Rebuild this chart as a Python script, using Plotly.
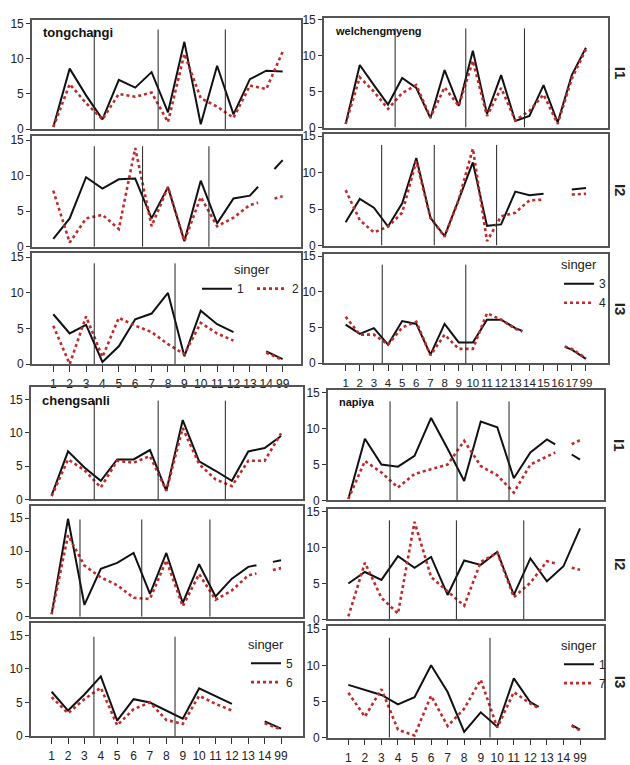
import plotly.graph_objects as go

# missing value that SPSS draws with half "wings" towards the neighbours
W = "w"

# x categories
xlab_tong = [str(i) for i in range(1, 15)] + ["99"]
xlab_welch = [str(i) for i in range(1, 18)] + ["99"]
xlab_cheng = [str(i) for i in range(1, 15)] + ["99"]
xlab_napiya = [str(i) for i in range(1, 15)] + ["99"]

# tongchangi, singers 1 and 2
tong_s1_i1 = [0.3, 8.6, 4.8, 1.4, 7.0, 5.9, 8.1, 2.4, 12.4, 0.7, 9.0, 2.1, 7.1, 8.3, 8.2]
tong_s2_i1 = [0.3, 6.4, 3.7, 1.4, 5.0, 4.6, 5.2, 1.0, 10.7, 4.4, 3.2, 1.6, 6.2, 5.7, 11.0]
tong_s1_i2 = [1.1, 4.0, 9.8, 8.2, 9.5, 9.6, 4.0, 8.4, 0.8, 9.3, 3.3, 6.8, 7.2, W, 12.2]
tong_s2_i2 = [7.9, 0.6, 4.0, 4.5, 2.5, 13.9, 2.9, 8.4, 0.8, 7.0, 2.9, 4.1, 5.9, W, 7.1]
tong_s1_i3 = [7.0, 4.3, 5.5, 0.3, 2.5, 6.3, 7.1, 10.0, 1.1, 7.5, 5.6, 4.5, None, 1.8, 0.7]
tong_s2_i3 = [5.4, 0.0, 6.7, 1.0, 6.5, 5.4, 4.5, 2.8, 1.4, 5.8, 4.3, 3.3, None, 1.6, 0.6]

# welchengmyeng, singers 3 and 4
welch_s3_i1 = [0.5, 8.7, 5.9, 3.2, 6.9, 5.5, 1.3, 8.0, 3.0, 10.7, 1.9, 7.3, 0.9, 1.6, 5.9, 0.7, 7.3, 11.1]
welch_s4_i1 = [0.5, 7.0, 5.0, 2.6, 4.8, 5.9, 1.4, 5.6, 3.0, 9.3, 1.6, 5.5, 1.0, 2.3, 4.6, 0.5, 6.8, 10.9]
welch_s3_i2 = [3.2, 6.4, 5.2, 2.6, 5.8, 12.0, 3.8, 1.3, 6.3, 11.4, 2.7, 2.9, 7.4, 6.9, 7.1, None, 7.7, 7.9]
welch_s4_i2 = [7.6, 3.5, 1.8, 2.6, 4.5, 11.6, 3.8, 1.2, 6.3, 13.3, 0.6, 4.0, 4.5, 6.2, 6.3, None, 7.0, 7.1]
welch_s3_i3 = [5.4, 4.1, 4.9, 2.6, 5.9, 5.5, 1.2, 5.5, 2.9, 2.9, 6.1, 6.1, 4.9, W, W, W, 1.9, 0.6]
welch_s4_i3 = [6.5, 4.0, 4.0, 2.6, 5.0, 5.8, 1.1, 4.0, 2.0, 2.0, 7.0, 6.1, 4.8, W, W, W, 2.0, 0.7]

# chengsanli, singers 5 and 6
cheng_s5_i1 = [0.6, 7.2, 4.8, 2.8, 6.0, 6.0, 7.4, 1.3, 11.9, 5.7, 4.3, 2.8, 7.2, 7.7, 9.5]
cheng_s6_i1 = [0.5, 6.0, 4.4, 1.8, 5.8, 5.5, 6.5, 1.3, 10.7, 5.3, 3.0, 2.0, 5.8, 5.8, 9.9]
cheng_s5_i2 = [0.4, 14.9, 1.8, 7.3, 8.2, 9.7, 3.5, 9.7, 2.1, 8.0, 3.1, 5.8, 7.6, W, 8.6]
cheng_s6_i2 = [0.4, 12.4, 7.8, 6.0, 4.8, 2.9, 2.7, 8.6, 1.6, 6.5, 2.6, 4.0, 6.3, W, 7.4]
cheng_s5_i3 = [6.6, 3.8, 6.2, 8.9, 2.3, 5.5, 5.0, 3.8, 2.6, 7.1, 6.0, 4.8, None, 2.2, 1.1]
cheng_s6_i3 = [5.8, 3.4, 5.5, 7.2, 1.6, 4.0, 5.0, 2.4, 1.8, 6.0, 4.8, 3.8, None, 1.9, 1.0]

# napiya, singers 1 and 7
nap_s1_i1 = [0.2, 8.6, 5.0, 4.7, 6.2, 11.5, 7.2, 2.7, 11.0, 10.2, 3.1, 6.7, 8.5, W, 5.7]
nap_s7_i1 = [0.2, 5.5, 3.9, 1.8, 3.7, 4.3, 5.0, 8.3, 4.8, 3.5, 1.1, 5.0, 6.1, W, 8.4]
nap_s1_i2 = [5.0, 6.6, 5.5, 8.8, 7.2, 8.7, 3.4, 8.2, 7.6, 9.4, 3.4, 8.5, 5.3, 7.4, 12.7]
nap_s7_i2 = [0.4, 7.9, 3.0, 0.8, 13.6, 5.9, 3.9, 1.9, 8.0, 9.3, 3.1, 5.1, 8.1, W, 6.9]
nap_s1_i3 = [7.3, 6.6, 5.9, 4.6, 5.6, 10.0, 6.3, 0.8, 3.5, 1.5, 8.2, 4.9, W, W, 1.1]
nap_s7_i3 = [6.2, 2.9, 6.7, 1.1, 0.3, 5.8, 1.6, 4.0, 8.0, 1.4, 6.3, 4.7, W, W, 1.0]

# vertical phrase boundaries per row (I1, I2, I3)
cuts_tong = [[3.5, 7.4, 11.5], [3.5, 6.45, 10.5], [3.5, 8.43]]
cuts_welch = [[4.5, 9.5, 13.65], [3.55, 7.27, 11.68], [3.59, 9.5]]
cuts_cheng = [[3.6, 7.5, 11.6], [2.73, 6.5, 10.66], [3.58, 8.53]]
cuts_napiya = [[3.52, 7.57, 10.71], [3.48, 7.53, 11.6], [3.48, 9.56]]

singers_tong = ["1", "2"]
singers_welch = ["3", "4"]
singers_cheng = ["5", "6"]
singers_napiya = ["1", "7"]

FW, FH = 630, 765
FONT = "Liberation Sans, Arial, sans-serif"
BLACK = "#111111"
RED = "#bf2a2a"


def build(vals):
    xs, ys = [], []
    nums = [isinstance(v, (int, float)) for v in vals]
    for i, v in enumerate(vals):
        pos = i + 1
        if nums[i]:
            xs.append(pos)
            ys.append(v)
            continue
        if v == W:
            p = max([j for j in range(i) if nums[j]], default=None)
            q = min([j for j in range(i + 1, len(vals)) if nums[j]], default=None)
            if p is not None and q is not None:
                def lerp(t):
                    return vals[p] + (vals[q] - vals[p]) * (t - (p + 1)) / (q - p)
                if i - 1 == p:
                    xs.append(pos - 0.5)
                    ys.append(lerp(pos - 0.5))
                xs.append(pos)
                ys.append(None)
                if i + 1 == q:
                    xs.append(pos + 0.5)
                    ys.append(lerp(pos + 0.5))
                continue
        xs.append(pos)
        ys.append(None)
    return xs, ys


blocks = [
    dict(name="tongchangi", size=13, labels=xlab_tong, singers=singers_tong,
         data=[(tong_s1_i1, tong_s2_i1), (tong_s1_i2, tong_s2_i2), (tong_s1_i3, tong_s2_i3)],
         cuts=cuts_tong, top=14.15, x0=32, x1=301, xr=[-0.3, 16.12], yr=[0, 15.55],
         rows=[(15, 127), (134.3, 247.3), (254, 367.3)], legend="legend"),
    dict(name="welchengmyeng", size=11, labels=xlab_welch, singers=singers_welch,
         data=[(welch_s3_i1, welch_s4_i1), (welch_s3_i2, welch_s4_i2), (welch_s3_i3, welch_s4_i3)],
         cuts=cuts_welch, top=13.8, x0=324, x1=608, xr=[-0.53, 19.56], yr=[0, 15.25],
         rows=[(13.3, 125.3), (132.3, 246), (255, 366.3)], legend="legend2"),
    dict(name="chengsanli", size=13, labels=xlab_cheng, singers=singers_cheng,
         data=[(cheng_s5_i1, cheng_s6_i1), (cheng_s5_i2, cheng_s6_i2), (cheng_s5_i3, cheng_s6_i3)],
         cuts=cuts_cheng, top=14.8, x0=31, x1=303, xr=[-0.26, 16.34], yr=[0, 16.8],
         rows=[(391, 505.7), (512.7, 625.7), (632.3, 747.7)], legend="legend3"),
    dict(name="napiya", size=11, labels=xlab_napiya, singers=singers_napiya,
         data=[(nap_s1_i1, nap_s7_i1), (nap_s1_i2, nap_s7_i2), (nap_s1_i3, nap_s7_i3)],
         cuts=cuts_napiya, top=13.8, x0=328, x1=604, xr=[-0.23, 16.45], yr=[0, 15.45],
         rows=[(393.3, 506.7), (515, 628.3), (635, 749.3)], legend="legend4"),
]

fig = go.Figure()
layout = {}
shapes = []
annotations = []
k = 0
for b in blocks:
    for r, (top_px, bot_px) in enumerate(b["rows"]):
        k += 1
        xa = "xaxis" if k == 1 else "xaxis%d" % k
        ya = "yaxis" if k == 1 else "yaxis%d" % k
        xref = "x" if k == 1 else "x%d" % k
        yref = "y" if k == 1 else "y%d" % k
        last = r == 2
        layout[xa] = dict(
            domain=[b["x0"] / FW, b["x1"] / FW], anchor=yref, range=b["xr"],
            tickmode="array", tickvals=list(range(1, len(b["labels"]) + 1)),
            ticktext=b["labels"], showticklabels=last, ticks="outside" if last else "",
            ticklen=6, tickcolor="#333", tickangle=0, ticklabelstandoff=2,
            tickfont=dict(size=12 if len(b["labels"]) < 16 else 11.5, color="#222"),
            showline=True, mirror=True, linecolor="#555", linewidth=1.6,
            showgrid=False, zeroline=False, fixedrange=True,
        )
        layout[ya] = dict(
            domain=[1 - bot_px / FH, 1 - top_px / FH], anchor=xref, range=b["yr"],
            tickvals=[0, 5, 10, 15], ticks="outside", ticklen=4, tickcolor="#333",
            tickfont=dict(size=12, color="#222"),
            showline=True, mirror=True, linecolor="#555", linewidth=1.6,
            showgrid=False, zeroline=False, fixedrange=True,
        )
        for c in b["cuts"][r]:
            shapes.append(dict(type="line", xref=xref, yref=yref, x0=c, x1=c,
                               y0=0, y1=b["top"], line=dict(color="#222", width=1)))
        for s, (vals, col, dash, wd) in enumerate(zip(b["data"][r], [BLACK, RED],
                                                      ["solid", "dot"], [2, 2.6])):
            xs, ys = build(vals)
            fig.add_trace(go.Scatter(
                x=xs, y=ys, mode="lines", xaxis=xref, yaxis=yref,
                name=b["singers"][s], line=dict(color=col, width=wd, dash=dash),
                showlegend=last, legend=b["legend"], connectgaps=False,
            ))
        if r == 0:
            annotations.append(dict(
                xref="paper", yref="paper", x=(b["x0"] + 9) / FW, y=1 - (top_px + 13) / FH,
                xanchor="left", yanchor="middle", text="<b>%s</b>" % b["name"],
                showarrow=False, font=dict(size=b["size"], color="#111")))
        if b["x0"] > 300:
            annotations.append(dict(
                xref="paper", yref="paper", x=620 / FW, y=1 - (top_px + bot_px) / 2 / FH,
                xanchor="center", yanchor="middle",
                text="<b>I%d</b>" % (r + 1), textangle=90, showarrow=False,
                font=dict(size=15, color="#222")))

legend_style = dict(bgcolor="rgba(0,0,0,0)", font=dict(size=12, color="#222"),
                    title=dict(text="singer", font=dict(size=13, color="#222")),
                    itemwidth=30, tracegroupgap=0)

fig.update_layout(
    autosize=True,
    margin=dict(l=0, r=0, t=0, b=0),
    paper_bgcolor="white", plot_bgcolor="white",
    font=dict(family=FONT, color="#222"),
    shapes=shapes, annotations=annotations,
    legend=dict(legend_style, orientation="h", x=252 / FW, y=1 - 258 / FH,
                xanchor="center", yanchor="top", entrywidth=10,
                title=dict(text="singer", side="top center", font=dict(size=13))),
    legend2=dict(legend_style, x=611 / FW, y=1 - 253 / FH, xanchor="right", yanchor="top"),
    legend3=dict(legend_style, x=298 / FW, y=1 - 641 / FH, xanchor="right", yanchor="top"),
    legend4=dict(legend_style, x=611 / FW, y=1 - 642 / FH, xanchor="right", yanchor="top"),
    **layout,
)

# pin the plot div to the page corner so the default body margin adds no height
fig.write_html(
    "out.html",
    default_width="%dpx" % FW,
    default_height="%dpx; position:absolute; left:0; top:0" % FH,
    config={"displayModeBar": False},
)
